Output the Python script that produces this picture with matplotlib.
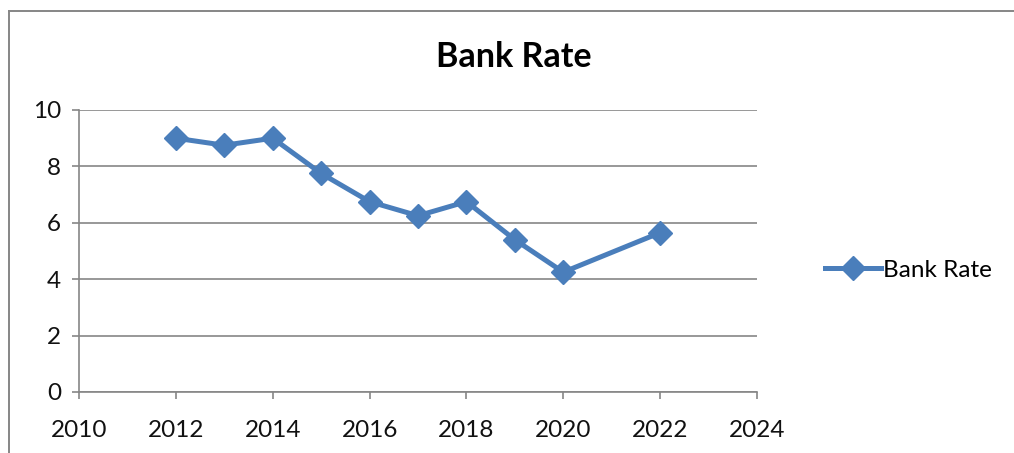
import matplotlib

matplotlib.use("Agg")

import matplotlib.pyplot as plt
from matplotlib.lines import Line2D

years = [2012, 2013, 2014, 2015, 2016, 2017, 2018, 2019, 2020, 2022]
bank_rate = [9.0, 8.75, 9.0, 7.75, 6.75, 6.25, 6.75, 5.4, 4.25, 5.65]
x_ticks = [2010, 2012, 2014, 2016, 2018, 2020, 2022, 2024]
y_ticks = [0, 2, 4, 6, 8, 10]

LINE_COLOR = "#4a7ebb"
GRID_COLOR = "#868686"
W, H = 1014, 453

plt.rcParams["font.family"] = ["Lato", "DejaVu Sans"]

fig = plt.figure(figsize=(W / 100, H / 100), dpi=100)
ax = fig.add_axes([79 / W, 1 - 392 / H, (757 - 79) / W, (392 - 110) / H])

ax.plot(
    years,
    bank_rate,
    color=LINE_COLOR,
    linewidth=3.6,
    marker="D",
    markersize=12,
    label="Bank Rate",
    zorder=3,
)

ax.set_xlim(2010, 2024)
ax.set_ylim(0, 10)
ax.set_xticks(x_ticks)
ax.set_yticks(y_ticks)
ax.tick_params(axis="both", labelsize=17.5, colors=GRID_COLOR, labelcolor="#111111",
               length=5, width=1.2)
ax.tick_params(axis="x", pad=15)
ax.tick_params(axis="y", pad=8)
ax.yaxis.grid(True, color=GRID_COLOR, linewidth=1.2)
ax.set_axisbelow(True)
for side in ["top", "right"]:
    ax.spines[side].set_visible(False)
for side in ["left", "bottom"]:
    ax.spines[side].set_color(GRID_COLOR)
    ax.spines[side].set_linewidth(1.2)

fig.text(514 / W, 1 - 57 / H, "Bank Rate", ha="center", va="center",
         fontsize=24.5, fontweight="bold")

ax.legend(
    loc="center left",
    bbox_to_anchor=(815 / W, 1 - 270 / H),
    bbox_transform=fig.transFigure,
    frameon=False,
    fontsize=17.5,
    handlelength=2.3,
    handletextpad=0.1,
    borderaxespad=0,
)

# chart-area border: only the left and top edges are inside the crop
fig.add_artist(Line2D([8.5 / W, 8.5 / W], [0, 1 - 10.5 / H], transform=fig.transFigure,
                      color=GRID_COLOR, linewidth=1.4))
fig.add_artist(Line2D([8.5 / W, 1], [1 - 10.5 / H, 1 - 10.5 / H], transform=fig.transFigure,
                      color=GRID_COLOR, linewidth=1.4))

fig.savefig("out.png", dpi=100)
